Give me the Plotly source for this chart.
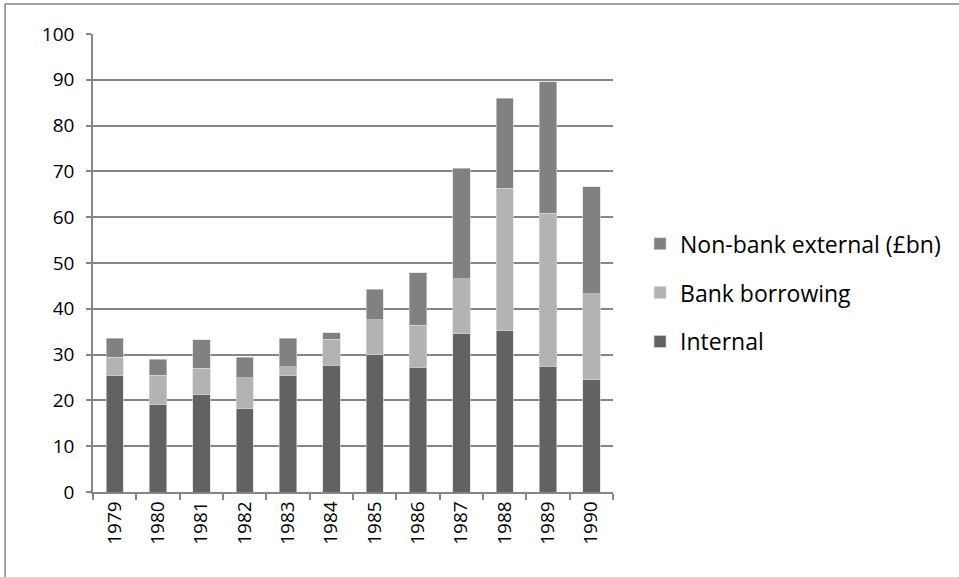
import plotly.graph_objects as go

years = ["1979", "1980", "1981", "1982", "1983", "1984", "1985", "1986", "1987", "1988", "1989", "1990"]
internal = [25.4, 19.0, 21.2, 18.2, 25.5, 27.7, 30.0, 27.2, 34.5, 35.2, 27.5, 24.5]
bank_borrowing = [4.0, 6.5, 5.8, 6.8, 1.9, 5.7, 7.6, 9.2, 12.1, 31.1, 33.4, 18.8]
non_bank_external = [4.2, 3.5, 6.2, 4.4, 6.2, 1.4, 6.7, 11.5, 24.1, 19.7, 28.7, 23.4]

series = [
    ("Internal", internal, "#626262", 3),
    ("Bank borrowing", bank_borrowing, "#b3b3b3", 2),
    ("Non-bank external (£bn)", non_bank_external, "#818181", 1),
]

fig = go.Figure()
for name, vals, color, rank in series:
    fig.add_trace(go.Bar(
        x=years, y=vals, name=name, legendgroup=name, legendrank=rank,
        marker=dict(color=color, line=dict(color="#d9d9d9", width=0.6)),
    ))

FONT = "Open Sans"
fig.update_layout(
    width=959, height=577,
    barmode="stack", bargap=0.6,
    plot_bgcolor="white", paper_bgcolor="white",
    margin=dict(l=93, r=346, t=34, b=85),
    font=dict(family=FONT, size=19, color="black"),
    showlegend=True,
    legend=dict(
        x=1.052, y=0.589, xanchor="left", yanchor="top",
        traceorder="grouped", tracegroupgap=16,
        font=dict(family=FONT, size=23, color="black"),
        itemwidth=30, bgcolor="rgba(0,0,0,0)",
    ),
    xaxis=dict(
        type="category", tickangle=-90,
        showline=True, linecolor="#868686", linewidth=1.5,
        ticks="outside", tickson="boundaries", ticklen=6, tickcolor="#868686", tickwidth=1.5,
        showgrid=False, tickfont=dict(family=FONT, size=19),
    ),
    yaxis=dict(
        range=[0, 100], dtick=10, tick0=0,
        showline=True, linecolor="#868686", linewidth=1.5,
        ticks="outside", ticklen=5, tickcolor="#868686", tickwidth=1.5,
        showgrid=True, gridcolor="#868686", gridwidth=1.5,
        zeroline=False, ticklabelstandoff=8,
        tickfont=dict(family=FONT, size=19),
    ),
    shapes=[dict(
        type="rect", xref="paper", yref="paper",
        x0=-0.169, x1=2.0, y0=-1.0, y1=1.0655,
        line=dict(color="#868686", width=1.5), fillcolor="rgba(0,0,0,0)", layer="below",
    )],
)

fig.write_html(
    "out.html",
    config={"displayModeBar": False},
    post_script="document.body.style.margin='0';document.body.style.overflow='hidden';",
)
